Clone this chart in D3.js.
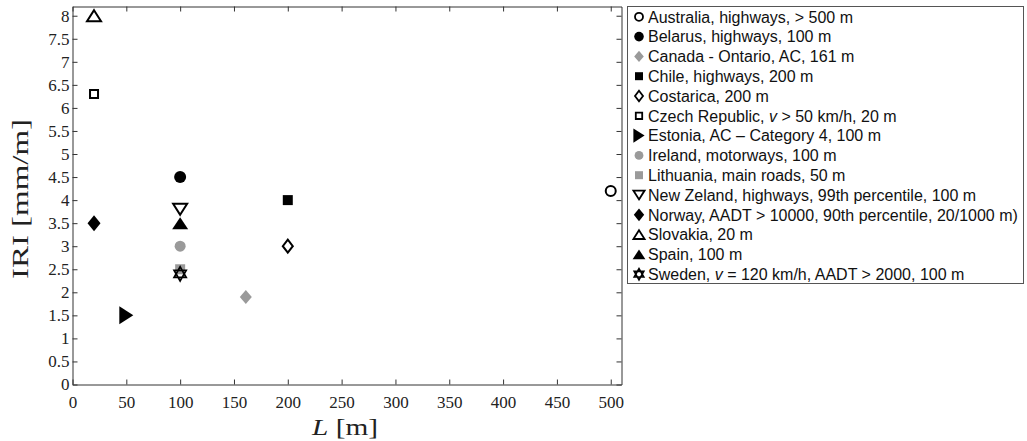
<!DOCTYPE html>
<html>
<head>
<meta charset="utf-8">
<script src="https://cdn.jsdelivr.net/npm/d3@7"></script>
<style>
html,body{margin:0;padding:0;background:#fff;}
svg{display:block;}
</style>
</head>
<body>
<svg id="chart" width="1027" height="441"></svg>
<script>
// ---- data ----
const countries = [
  "Australia, highways, > 500 m",
  "Belarus, highways, 100 m",
  "Canada - Ontario, AC, 161 m",
  "Chile, highways, 200 m",
  "Costarica, 200 m",
  "Czech Republic, v > 50 km/h, 20 m",
  "Estonia, AC \u2013 Category 4, 100 m",
  "Ireland, motorways, 100 m",
  "Lithuania, main roads, 50 m",
  "New Zeland, highways, 99th percentile, 100 m",
  "Norway, AADT > 10000, 90th percentile, 20/1000 m)",
  "Slovakia, 20 m",
  "Spain, 100 m",
  "Sweden, v = 120 km/h, AADT > 2000, 100 m"
];
const lengthsM = [500, 100, 161, 200, 200, 20, 50, 100, 100, 100, 20, 20, 100, 100];
const iriValues = [4.2, 4.5, 1.9, 4.0, 3.0, 6.3, 1.5, 3.0, 2.5, 3.8, 3.5, 8.0, 3.5, 2.4];
const xTicks = [0, 50, 100, 150, 200, 250, 300, 350, 400, 450, 500];
const yTicks = [0, 0.5, 1, 1.5, 2, 2.5, 3, 3.5, 4, 4.5, 5, 5.5, 6, 6.5, 7, 7.5, 8];
const xDomain = [0, 510];
const yDomain = [0, 8.2];
const xLabelText = ["L", " [m]"];
const yLabelText = "IRI [mm/m]";

// ---- marker styles (one per series) ----
const GRAY = "#9a9a9a";
const markerStyles = [
  {shape: "circle",   w: 10, h: 10, fill: "#fff", stroke: "#000", sw: 2},
  {shape: "circle",   w: 12, h: 12, fill: "#000"},
  {shape: "diamond",  w: 12, h: 14, fill: GRAY},
  {shape: "square",   w: 10, h: 10, fill: "#000"},
  {shape: "diamond",  w: 10, h: 13, fill: "#fff", stroke: "#000", sw: 2},
  {shape: "square",   w: 8,  h: 8,  fill: "#fff", stroke: "#000", sw: 2},
  {shape: "triRight", w: 14, h: 18, fill: "#000"},
  {shape: "circle",   w: 11, h: 11, fill: GRAY},
  {shape: "square",   w: 10, h: 10, fill: GRAY},
  {shape: "triDown",  w: 14, h: 11, fill: "#fff", stroke: "#000", sw: 2},
  {shape: "diamond",  w: 13, h: 16, fill: "#000"},
  {shape: "triUp",    w: 14, h: 11, fill: "#fff", stroke: "#000", sw: 2},
  {shape: "triUp",    w: 16, h: 12, fill: "#000"},
  {shape: "hexagram", w: 12, h: 14, fill: "#fff", stroke: "#000", sw: 1.8}
];

function markerPath(st, k) {
  const w = st.w * k, h = st.h * k, a = w / 2, b = h / 2;
  switch (st.shape) {
    case "circle": return `M${a},0A${a},${a} 0 1,1 ${-a},0A${a},${a} 0 1,1 ${a},0Z`;
    case "square": return `M${-a},${-b}H${a}V${b}H${-a}Z`;
    case "diamond": return `M0,${-b}L${a},0L0,${b}L${-a},0Z`;
    case "triUp": return `M0,${-b}L${a},${b}L${-a},${b}Z`;
    case "triDown": return `M0,${b}L${a},${-b}L${-a},${-b}Z`;
    case "triRight": return `M${a},0L${-a},${b}L${-a},${-b}Z`;
    case "hexagram": {
      const r = b, c = a;
      const up = `M0,${-r}L${c},${r / 2}L${-c},${r / 2}Z`;
      const dn = `M0,${r}L${c},${-r / 2}L${-c},${-r / 2}Z`;
      return up + dn;
    }
  }
}

// ---- layout ----
const plot = {left: 72.5, right: 621.5, top: 6.5, bottom: 384.5};
const svg = d3.select("#chart");

const x = d3.scaleLinear().domain(xDomain).range([plot.left, plot.right]);
const y = d3.scaleLinear().domain(yDomain).range([plot.bottom, plot.top]);

const serif = "'Liberation Serif','Times New Roman',Times,serif";
const sans = "'Liberation Sans',Arial,Helvetica,sans-serif";

function styleAxis(g) {
  g.selectAll(".domain").attr("stroke", "#333").attr("stroke-width", 1);
  g.selectAll(".tick line").attr("stroke", "#333");
  g.selectAll(".tick text").attr("fill", "#222").attr("font-family", serif).attr("font-size", 17);
}

svg.append("g").attr("transform", `translate(0,${plot.bottom})`)
  .call(d3.axisBottom(x).tickValues(xTicks).tickSizeInner(-5).tickSizeOuter(0).tickPadding(11).tickFormat(d => String(d)))
  .call(styleAxis);
svg.append("g").attr("transform", `translate(0,${plot.top})`)
  .call(d3.axisTop(x).tickValues(xTicks).tickSizeInner(-5).tickSizeOuter(0).tickFormat(""))
  .call(styleAxis);
svg.append("g").attr("transform", `translate(${plot.left},0)`)
  .call(d3.axisLeft(y).tickValues(yTicks).tickSizeInner(-5).tickSizeOuter(0).tickPadding(3).tickFormat(d => String(d)))
  .call(styleAxis);
svg.append("g").attr("transform", `translate(${plot.right},0)`)
  .call(d3.axisRight(y).tickValues(yTicks).tickSizeInner(-5).tickSizeOuter(0).tickFormat(""))
  .call(styleAxis);

// axis labels
const xl = svg.append("text")
  .attr("x", 345).attr("y", 435)
  .attr("text-anchor", "middle")
  .attr("font-family", serif).attr("font-size", 24).attr("fill", "#222")
  .attr("textLength", 66).attr("lengthAdjust", "spacingAndGlyphs");
xl.append("tspan").attr("font-style", "italic").text(xLabelText[0]);
xl.append("tspan").text(xLabelText[1]);

svg.append("text")
  .attr("transform", "translate(28,199) rotate(-90)")
  .attr("text-anchor", "middle")
  .attr("font-family", serif).attr("font-size", 23).attr("fill", "#222")
  .attr("textLength", 160).attr("lengthAdjust", "spacingAndGlyphs")
  .text(yLabelText);

// points
const pts = countries.map((c, i) => ({c, L: lengthsM[i], v: iriValues[i], st: markerStyles[i]}));
svg.append("g").selectAll("path").data(pts).join("path")
  .attr("transform", d => `translate(${x(d.L)},${y(d.v)})`)
  .attr("d", d => markerPath(d.st, 1))
  .attr("fill", d => d.st.fill)
  .attr("stroke", d => d.st.stroke || "none")
  .attr("stroke-width", d => d.st.sw || 0)
  .attr("stroke-linejoin", "miter");

// legend
const leg = svg.append("g");
leg.append("rect").attr("x", 627.5).attr("y", 6.5).attr("width", 396).attr("height", 277)
  .attr("fill", "#fff").attr("stroke", "#555").attr("stroke-width", 1);
const rows = leg.selectAll("g.row").data(pts).join("g").attr("class", "row")
  .attr("transform", (d, i) => `translate(0,${16.8 + i * 19.8})`);
rows.append("path")
  .attr("transform", "translate(639,0)")
  .attr("d", d => markerPath(d.st, 0.8))
  .attr("fill", d => d.st.fill)
  .attr("stroke", d => d.st.stroke || "none")
  .attr("stroke-width", d => d.st.sw ? d.st.sw * 0.9 : 0);
rows.append("text")
  .attr("x", 648).attr("y", 0).attr("dy", "0.36em")
  .attr("font-family", sans).attr("font-size", 16).attr("fill", "#111")
  .each(function(d) {
    const parts = d.c.split(/\b(v)\b/);
    const t = d3.select(this);
    parts.forEach(p => {
      if (p === "") return;
      const sp = t.append("tspan").text(p);
      if (p === "v") sp.attr("font-style", "italic");
    });
  });
</script>
</body>
</html>
